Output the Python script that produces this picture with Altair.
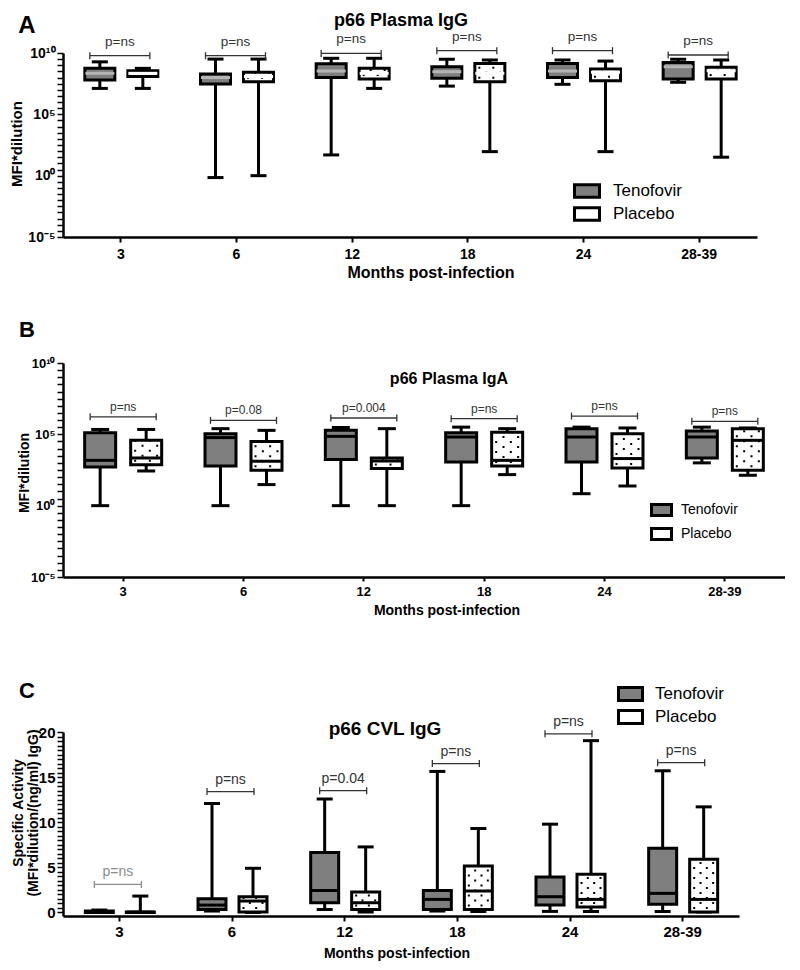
import altair as alt
import pandas as pd

FONT = "Liberation Sans"

months = ["3", "6", "12", "18", "24", "28-39"]
groups = ["Tenofovir", "Placebo"]

# ---------------- Panel A: p66 Plasma IgG (MFI*dilution, log) ----------------
A_ten_lower = [1.3e7, 0.7, 49, 2.0e7, 2.8e7, 4.1e7]
A_ten_q1 = [6.3e7, 3.0e7, 1.0e8, 8.7e7, 1.0e8, 7.6e7]
A_ten_med = [2.2e8, 1.0e8, 3.4e8, 3.0e8, 3.4e8, 7.6e8]
A_ten_q3 = [5.6e8, 1.9e8, 1.3e9, 7.6e8, 1.4e9, 1.7e9]
A_ten_upper = [1.9e9, 3.2e9, 3.7e9, 3.1e9, 2.7e9, 3.1e9]
A_pla_lower = [1.3e7, 1.0, 1.3e7, 91, 91, 32]
A_pla_q1 = [1.2e8, 4.6e7, 7.6e7, 4.6e7, 5.5e7, 7.6e7]
A_pla_med = [2.2e8, 1.2e8, 2.2e8, 2.2e8, 2.7e8, 3.6e8]
A_pla_q3 = [3.6e8, 2.7e8, 5.6e8, 1.4e9, 5.0e8, 6.8e8]
A_pla_upper = [5.6e8, 3.2e9, 3.7e9, 2.7e9, 2.2e9, 2.7e9]
A_bracket_y = [6.0e9, 6.0e9, 9.3e9, 1.55e10, 1.55e10, 6.9e9]
A_p_text = ["p=ns", "p=ns", "p=ns", "p=ns", "p=ns", "p=ns"]

# ---------------- Panel B: p66 Plasma IgA (MFI*dilution, log) ----------------
B_ten_lower = [1, 1, 1, 1, 6.9, 1000]
B_ten_q1 = [510, 600, 1700, 1150, 1150, 2200]
B_ten_med = [1500, 5.9e4, 7.2e4, 6.5e4, 6.5e4, 6.5e4]
B_ten_q3 = [1.3e5, 1.1e5, 1.9e5, 1.3e5, 2.5e5, 1.7e5]
B_ten_upper = [2.2e5, 2.5e5, 3.0e5, 3.2e5, 3.2e5, 3.2e5]
B_pla_lower = [270, 30, 1, 150, 24, 135]
B_pla_q1 = [740, 300, 400, 600, 440, 300]
B_pla_med = [2200, 1300, 1350, 1500, 2000, 3.8e4]
B_pla_q3 = [3.8e4, 3.2e4, 2200, 1.4e5, 1.1e5, 2.5e5]
B_pla_upper = [2.2e5, 1.9e5, 2.5e5, 2.5e5, 2.8e5, 2.8e5]
B_bracket_y = [1.7e6, 9.5e5, 1.4e6, 1.26e6, 1.9e6, 8.1e5]
B_p_text = ["p=ns", "p=0.08", "p=0.004", "p=ns", "p=ns", "p=ns"]

# ---------------- Panel C: p66 CVL IgG (specific activity, linear) ----------------
C_ten_lower = [0.0, 0.15, 0.33, 0.15, 0.11, 0.1]
C_ten_q1 = [0.0, 0.33, 1.07, 0.33, 0.81, 0.89]
C_ten_med = [0.08, 0.81, 2.44, 1.44, 1.74, 2.11]
C_ten_q3 = [0.15, 1.52, 6.63, 2.44, 3.93, 7.11]
C_ten_upper = [0.26, 12.07, 12.56, 15.63, 9.78, 15.7]
C_pla_lower = [0.0, 0.0, 0.04, 0.1, 0.1, 0.04]
C_pla_q1 = [0.0, 0.04, 0.33, 0.33, 0.6, 0.04]
C_pla_med = [0.03, 1.26, 1.07, 2.37, 1.44, 1.44]
C_pla_q3 = [0.04, 1.74, 2.26, 5.15, 4.22, 5.89]
C_pla_upper = [1.81, 4.89, 7.26, 9.3, 19.04, 11.7]
C_bracket_y = [3.1, 13.4, 13.5, 16.5, 19.8, 16.6]
C_p_text = ["p=ns", "p=ns", "p=0.04", "p=ns", "p=ns", "p=ns"]

# texts
A_title = "p66 Plasma  IgG"
B_title = "p66 Plasma IgA"
C_title = "p66 CVL IgG"
x_title = "Months post-infection"
log_y_title = "MFI*dilution"
C_y_title = "Specific  Activity\n(MFI*dilution/(ng/ml) IgG)"


def box_table(ten, pla):
    rows = []
    for g, cols in zip(groups, [ten, pla]):
        lo, q1, md, q3, hi = cols
        for i, m in enumerate(months):
            rows.append(dict(month=m, group=g, lower=lo[i], q1=q1[i],
                             median=md[i], q3=q3[i], upper=hi[i]))
    return pd.DataFrame(rows)


def text_layer(txt, x, y, size, bold=True, angle=0, line_height=None):
    kw = dict(font=FONT, fontSize=size, fontWeight="bold" if bold else "normal",
              color="black", align="center", baseline="middle", angle=angle)
    if line_height is not None:
        kw["lineBreak"] = "\n"
        kw["lineHeight"] = line_height
    return alt.Chart(pd.DataFrame({"t": [txt]})).mark_text(**kw).encode(
        x=alt.value(x), y=alt.value(y), text="t:N")


LOG_MAJOR = "abs(log(datum.value)/LN10/5 - round(log(datum.value)/LN10/5)) < 0.01"
LOG_LABEL = ("(" + LOG_MAJOR + ") ? (datum.value > 1e9 ? '10\u00b9\u2070' : datum.value > 1e4 ? '10\u2075' : "
             "datum.value > 0.1 ? '10\u2070' : '10\u207b\u2075') : ''")


def log_axis(size):
    return alt.Axis(title=None, values=[10 ** (k / 2) for k in range(-10, 21)],
                    labelExpr=LOG_LABEL, labelOverlap=False, labelFlush=False,
                    labelFont=FONT, labelFontWeight="bold", labelFontSize=size,
                    labelColor="black", labelPadding=2, ticks=True, tickSize=6,
                    tickWidth=1.5, tickColor="black", domainColor="black",
                    domainWidth=2.5, grid=False)


def x_axis(size, pad, tick):
    return alt.Axis(title=None, labelFont=FONT, labelFontWeight="bold", labelFontSize=size,
                    labelColor="black", labelPadding=pad, labelAngle=0, tickSize=tick,
                    tickWidth=2, tickColor="black", domainColor="black",
                    domainWidth=2.5, grid=False)


def panel(P):
    xenc = alt.X("month:N", sort=months,
                 scale=alt.Scale(paddingInner=0, paddingOuter=0), axis=P["xaxis"])

    def Y(field):
        return alt.Y(field + ":Q", scale=P["yscale"], axis=P["yaxis"])

    fill_scale = alt.Scale(domain=groups, range=["#7f7f7f", "#ffffff"])
    layers = []
    for g in groups:
        off = P["off"][g]
        d = alt.Chart(P["box"]).transform_filter(alt.datum.group == g)
        layers.append(d.mark_rule(color="black", strokeWidth=3, xOffset=off).encode(
            x=xenc, y=Y("lower"), y2=alt.Y2("upper:Q")))
        for f in ["lower", "upper"]:
            layers.append(d.mark_tick(color="black", thickness=3, size=P["cap"], xOffset=off,
                                      opacity=1).encode(x=xenc, y=Y(f)))
        layers.append(d.mark_bar(width=P["bw"], stroke="black", strokeWidth=3, xOffset=off,
                                 opacity=1).encode(
            x=xenc, y=Y("q1"), y2=alt.Y2("q3:Q"),
            fill=alt.Fill("group:N", scale=fill_scale, legend=P["legend"])))
        if g == "Placebo":
            # dotted fill pattern: staggered dotted columns running from q1 to q3
            c = P["bw"] / 2 - 4.5
            for k, dx in enumerate([-c, -c / 3, c / 3, c]):
                layers.append(d.mark_rule(color="black", strokeWidth=2, strokeCap="butt",
                                          strokeDash=[2, 8],
                                          strokeDashOffset=7 if k % 2 == 0 else 2,
                                          xOffset=off + dx).encode(
                    x=xenc, y=Y("q1"), y2=alt.Y2("q3:Q")))
        layers.append(d.mark_tick(color=P["med"][g], thickness=3, size=P["bw"] - 1,
                                  xOffset=off, opacity=1).encode(x=xenc, y=Y("median")))

    bdf = pd.DataFrame({"month": months, "y": P["br_y"], "label": P["br_text"]})
    L, R = P["br"]
    bcol = P["bcolor"]
    bch = alt.Chart(bdf)
    layers.append(bch.mark_tick(thickness=1.3, size=R - L, xOffset=(L + R) / 2, opacity=1).encode(
        x=xenc, y=Y("y"), color=bcol))
    for o in (L, R):
        layers.append(bch.mark_tick(orient="vertical", thickness=1.3, size=7, xOffset=o,
                                    opacity=1).encode(x=xenc, y=Y("y"), color=bcol))
    layers.append(bch.mark_text(font=FONT, fontSize=P["pfont"], dy=P["pdy"],
                                xOffset=(L + R) / 2, baseline="middle").encode(
        x=xenc, y=Y("y"), text="label:N", color=bcol))

    layers += P["texts"]
    return alt.layer(*layers).properties(width=P["w"], height=P["h"])


def legend(x, y, path, size, font, offset, row):
    return alt.Legend(orient="none", legendX=x, legendY=y, title=None, symbolType=path,
                      symbolSize=size, symbolStrokeColor="black", symbolStrokeWidth=3,
                      symbolOpacity=1, labelFont=FONT, labelFontSize=font, labelColor="black",
                      labelOffset=offset, clipHeight=20, rowPadding=row, padding=0)


dark = alt.value("#333333")

PA = dict(
    box=box_table((A_ten_lower, A_ten_q1, A_ten_med, A_ten_q3, A_ten_upper),
                  (A_pla_lower, A_pla_q1, A_pla_med, A_pla_q3, A_pla_upper)),
    w=694, h=184, bw=30, cap=16,
    off={"Tenofovir": -21, "Placebo": 22},
    med={"Tenofovir": "#b5b5b5", "Placebo": "#ffffff"},
    yscale=alt.Scale(type="log", domain=[1e-5, 1e10], nice=False),
    yaxis=log_axis(14), xaxis=x_axis(14, 5, 5),
    legend=legend(510, 128, "M-1,-0.5H1V0.5H-1Z", 625, 17, 12, 3),
    br_y=A_bracket_y, br_text=A_p_text, br=(-31, 29), bcolor=dark, pfont=13.5, pdy=-14,
    texts=[text_layer("A", -36, -27, 24),
           text_layer(A_title, 338, -32, 18),
           text_layer(log_y_title, -46, 91, 15, angle=270),
           text_layer(x_title, 368, 220, 16)],
)

PB = dict(
    box=box_table((B_ten_lower, B_ten_q1, B_ten_med, B_ten_q3, B_ten_upper),
                  (B_pla_lower, B_pla_q1, B_pla_med, B_pla_q3, B_pla_upper)),
    w=722, h=214, bw=31, cap=18,
    off={"Tenofovir": -23, "Placebo": 23},
    med={"Tenofovir": "#000000", "Placebo": "#000000"},
    yscale=alt.Scale(type="log", domain=[1e-5, 1e10], nice=False),
    yaxis=log_axis(13), xaxis=x_axis(13, 4, 4),
    legend=legend(587, 137, "M-1,-0.55H1V0.55H-1Z", 400, 14, 8, 4),
    br_y=B_bracket_y, br_text=B_p_text, br=(-33, 33), bcolor=dark, pfont=12, pdy=-10,
    texts=[text_layer("B", -36, -33, 22),
           text_layer(B_title, 386, 16, 16),
           text_layer(log_y_title, -38, 110, 14, angle=270),
           text_layer(x_title, 384, 248, 14)],
)

PC = dict(
    box=box_table((C_ten_lower, C_ten_q1, C_ten_med, C_ten_q3, C_ten_upper),
                  (C_pla_lower, C_pla_q1, C_pla_med, C_pla_q3, C_pla_upper)),
    w=676, h=184, bw=28, cap=16,
    off={"Tenofovir": -20, "Placebo": 21},
    med={"Tenofovir": "#000000", "Placebo": "#000000"},
    yscale=alt.Scale(domain=[-0.4, 20], nice=False, zero=False),
    yaxis=alt.Axis(title=None, values=[i * 0.5 for i in range(41)],
                   labelExpr="datum.value % 5 == 0 ? format(datum.value, 'd') : ''",
                   labelOverlap=False, labelFlush=False,
                   labelFont=FONT, labelFontWeight="bold", labelFontSize=15,
                   labelColor="black", labelPadding=2, ticks=True, tickSize=6,
                   tickWidth=1.5, tickColor="black", domainColor="black",
                   domainWidth=2.5, grid=False),
    xaxis=x_axis(15, 3, 5),
    legend=legend(554, -48, "M-1,-0.54H1V0.54H-1Z", 576, 17, 11, 3),
    br_y=C_bracket_y, br_text=C_p_text, br=(-25, 22),
    bcolor=alt.condition(alt.datum.month == "3", alt.value("#8c8c8c"), alt.value("#333333")),
    pfont=14, pdy=-12,
    texts=[text_layer("C", -36, -41, 22),
           text_layer(C_title, 322, -3, 19),
           text_layer(C_y_title, -44, 81, 14, angle=270, line_height=15),
           text_layer(x_title, 334, 222, 14)],
)


def spacer(h):
    return alt.Chart(pd.DataFrame({"s": [0]})).mark_point(opacity=0).encode(
        x=alt.value(0), y=alt.value(0)).properties(width=10, height=h)


chart = alt.vconcat(
    panel(PA), spacer(126), panel(PB), spacer(155), panel(PC),
    spacing=0, bounds="flush",
).resolve_scale(
    x="independent", y="independent", fill="independent"
).resolve_legend(fill="independent").properties(
    padding={"top": 4, "left": 2, "right": 0, "bottom": 0}
).configure(
    font=FONT
).configure_view(stroke=None)

chart.save("out.html", embed_options={"renderer": "svg", "actions": False})
